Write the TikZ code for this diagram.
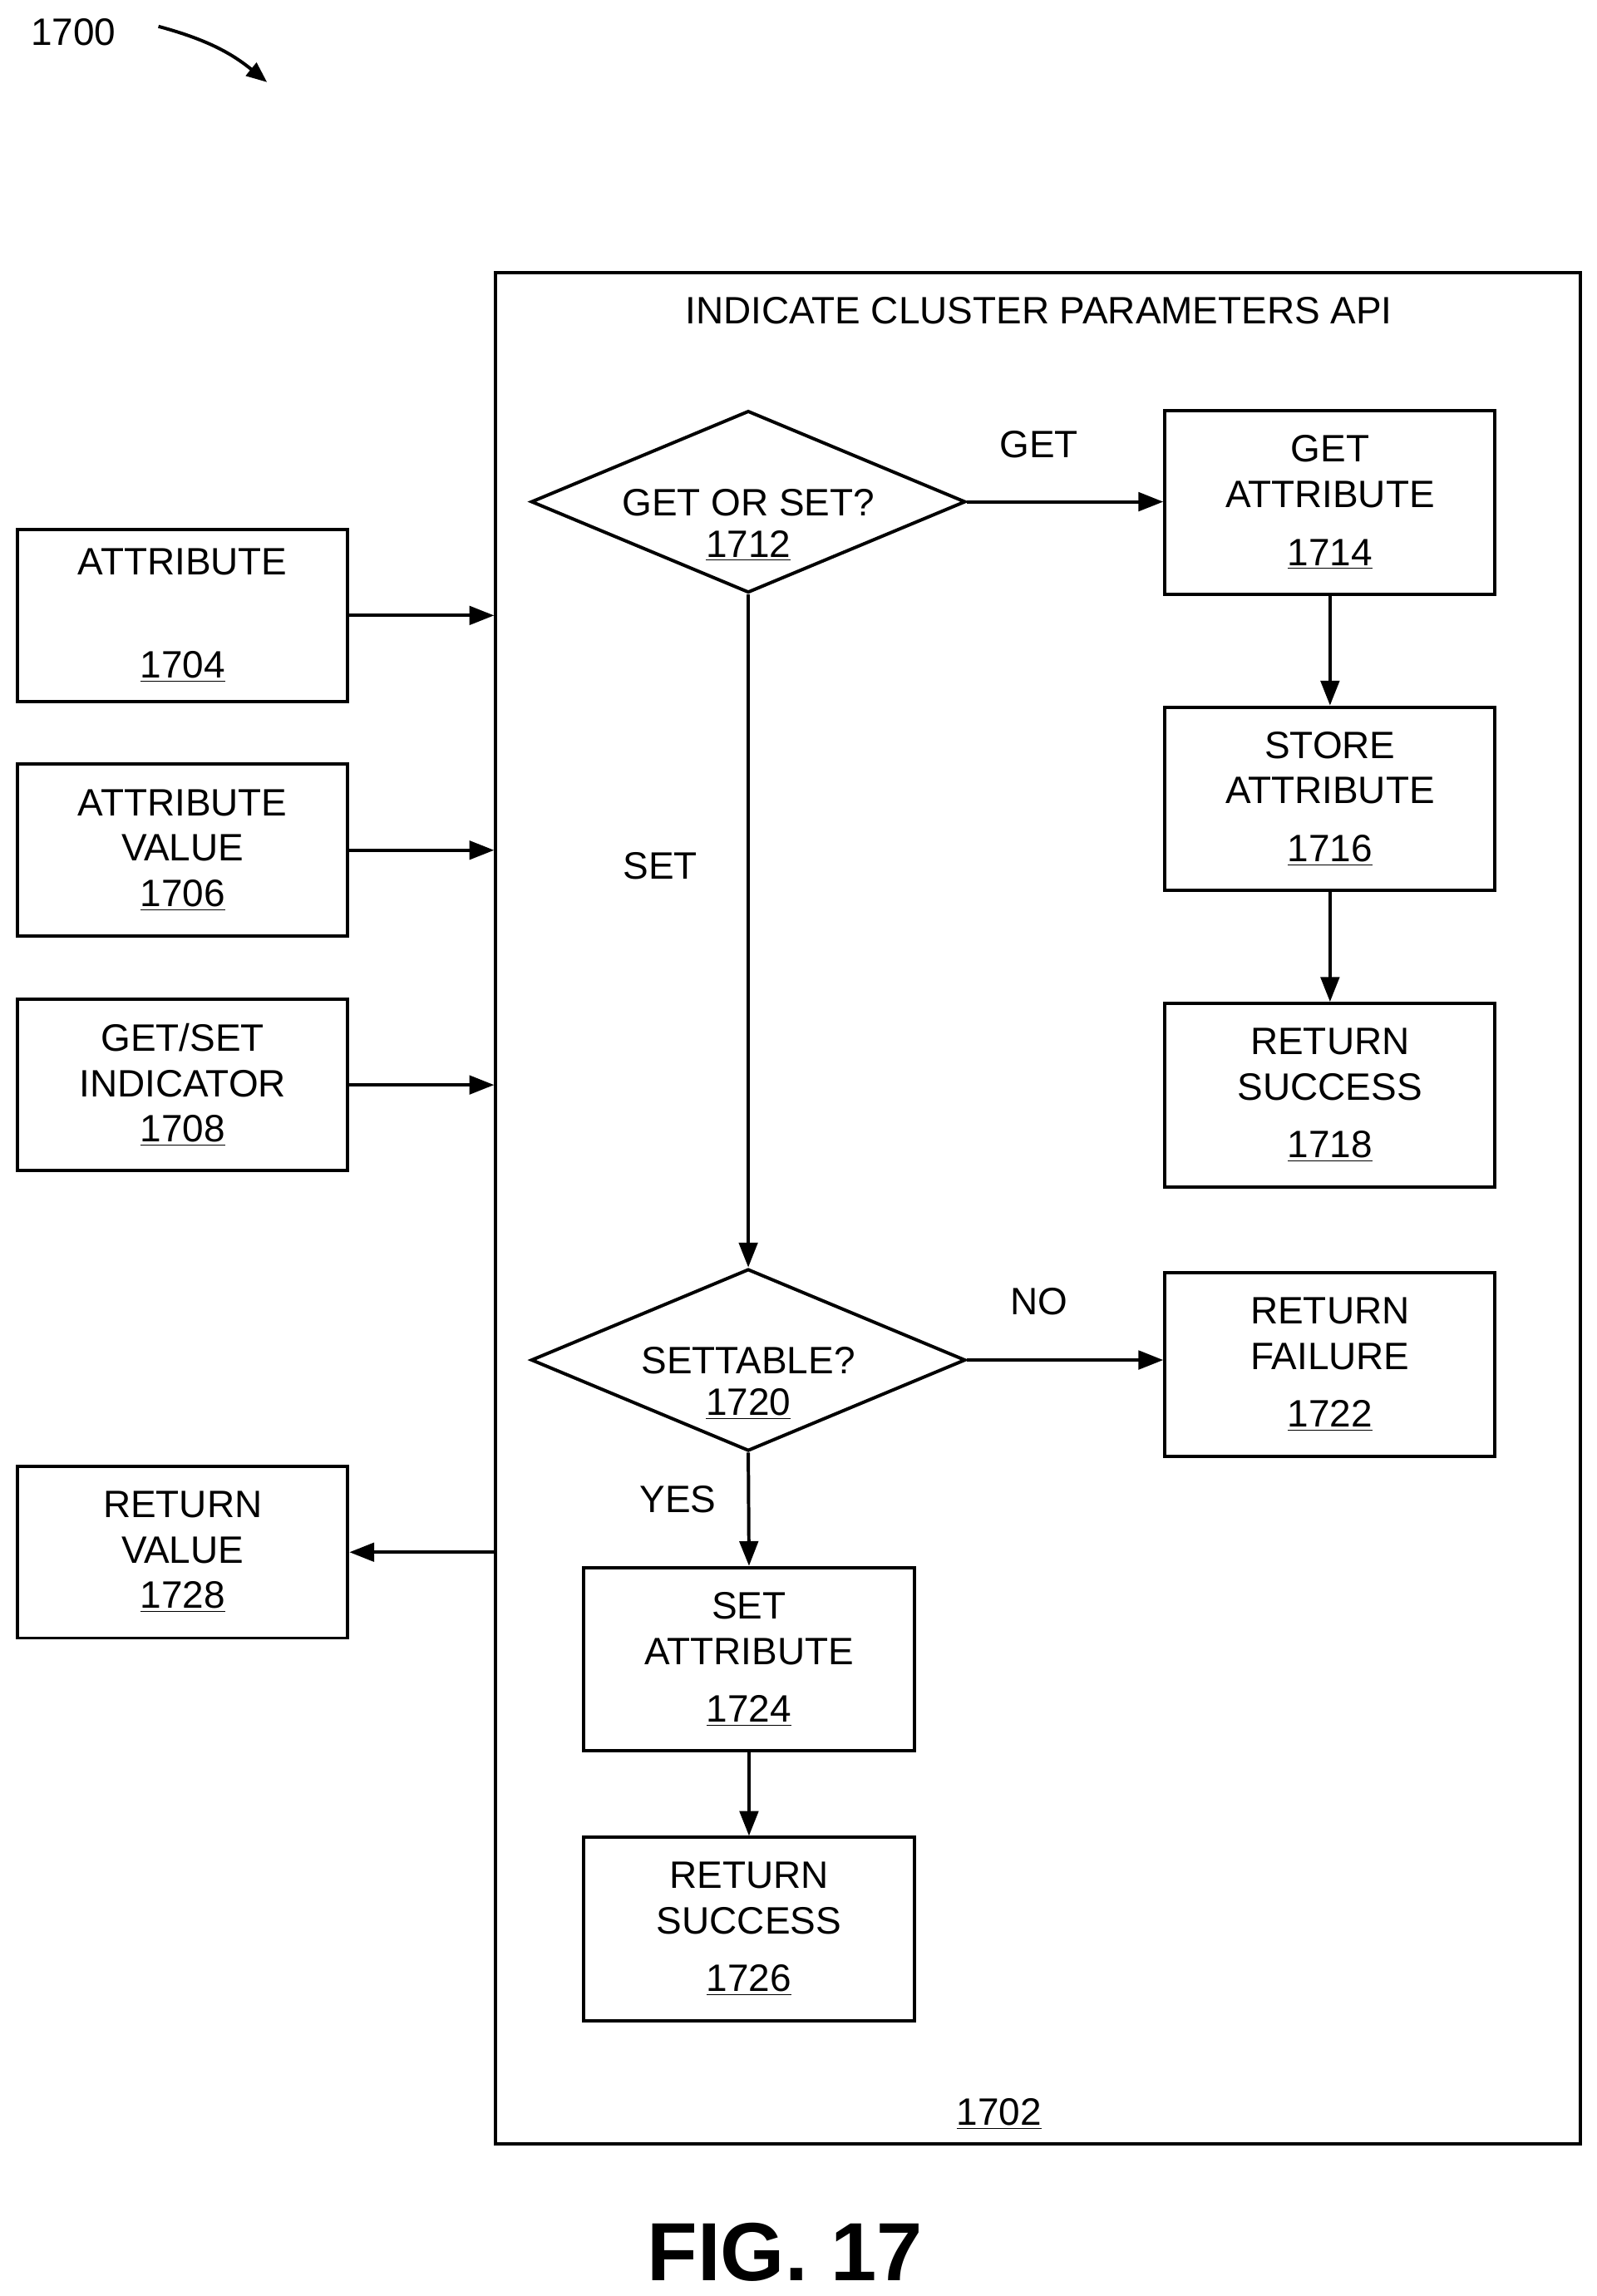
\documentclass[tikz,border=0pt]{standalone}
\usepackage{fontspec}
\setmainfont{Liberation Sans}
\usetikzlibrary{arrows.meta,shapes.geometric}
\begin{document}
\begin{tikzpicture}[x=0.025cm,y=-0.025cm,
  every node/.style={font=\fontsize{18.5}{22}\selectfont},
  box/.style={draw,line width=1.6pt,minimum width=5.625cm,minimum height=3.125cm,align=center,inner sep=0pt},
  lbox/.style={box,minimum height=2.925cm},
  dia/.style={draw,line width=1.6pt,diamond,minimum width=7.4cm,minimum height=3.1cm,inner sep=0pt},
  arr/.style={line width=1.6pt,-{Triangle[length=12pt,width=9pt]}}]
\useasboundingbox (0,0) rectangle (1088,1565);
\node[draw,line width=1.6pt,minimum width=18.475cm,minimum height=31.875cm,inner sep=0pt] (api) at (707.5,823.5) {};
\node (title) at (708,212) {INDICATE CLUSTER PARAMETERS API};
\node (n1702) at (681,1441) {\underline{1702}};
\node[dia] (d1) at (510,342) {};
\node[align=center] (d1t) at (510,358) {GET OR SET?\\[-2pt]\underline{1712}};
\node[box] (b1714) at (906.5,342.5) {GET\\ATTRIBUTE\\[6pt]\underline{1714}};
\node[box] (b1716) at (906.5,544.5) {STORE\\ATTRIBUTE\\[6pt]\underline{1716}};
\node[box] (b1718) at (906.5,746.5) {RETURN\\SUCCESS\\[6pt]\underline{1718}};
\node[dia] (d2) at (510,927) {};
\node[align=center] (d2t) at (510,943) {SETTABLE?\\[-2pt]\underline{1720}};
\node[box] (b1722) at (906.5,930) {RETURN\\FAILURE\\[6pt]\underline{1722}};
\node[box] (b1724) at (510.5,1131) {SET\\ATTRIBUTE\\[6pt]\underline{1724}};
\node[box] (b1726) at (510.5,1315) {RETURN\\SUCCESS\\[6pt]\underline{1726}};
\node[lbox] (b1704) at (124.5,419.5) {ATTRIBUTE\\[6pt]\\\underline{1704}};
\node[lbox] (b1706) at (124.5,579.5) {ATTRIBUTE\\VALUE\\\underline{1706}};
\node[lbox] (b1708) at (124.5,739.5) {GET/SET\\INDICATOR\\\underline{1708}};
\node[lbox] (b1728) at (124.5,1058) {RETURN\\VALUE\\\underline{1728}};
\draw[arr] (d1.east) -- (b1714.west |- d1.east);
\node (lget) at (708,303) {GET};
\draw[arr] (b1714) -- (b1716);
\draw[arr] (b1716) -- (b1718);
\draw[arr] (d1.south) -- (d2.north);
\node (lset) at (450,590) {SET};
\draw[arr] (d2.east) -- (b1722.west |- d2.east);
\node (lno) at (708,887) {NO};
\draw[arr] (d2.south) -- (b1724.north);
\node (lyes) at (462,1022) {YES};
\draw[arr] (b1724) -- (b1726);
\draw[arr] (b1704.east) -- (b1704.east -| api.west);
\draw[arr] (b1706.east) -- (b1706.east -| api.west);
\draw[arr] (b1708.east) -- (b1708.east -| api.west);
\draw[arr] (b1728.east -| api.west) -- (b1728.east);
\node (n1700) at (50,22) {1700};
\coordinate (c1) at (108,18);
\coordinate (c2) at (182,56);
\draw[line width=1.6pt,-{Triangle[length=10pt,width=8pt]}] (c1) to[bend left=12] (c2);
\node[font=\fontsize{40}{46}\selectfont\bfseries] (fig) at (535,1535) {FIG. 17};
\end{tikzpicture}
\end{document}
